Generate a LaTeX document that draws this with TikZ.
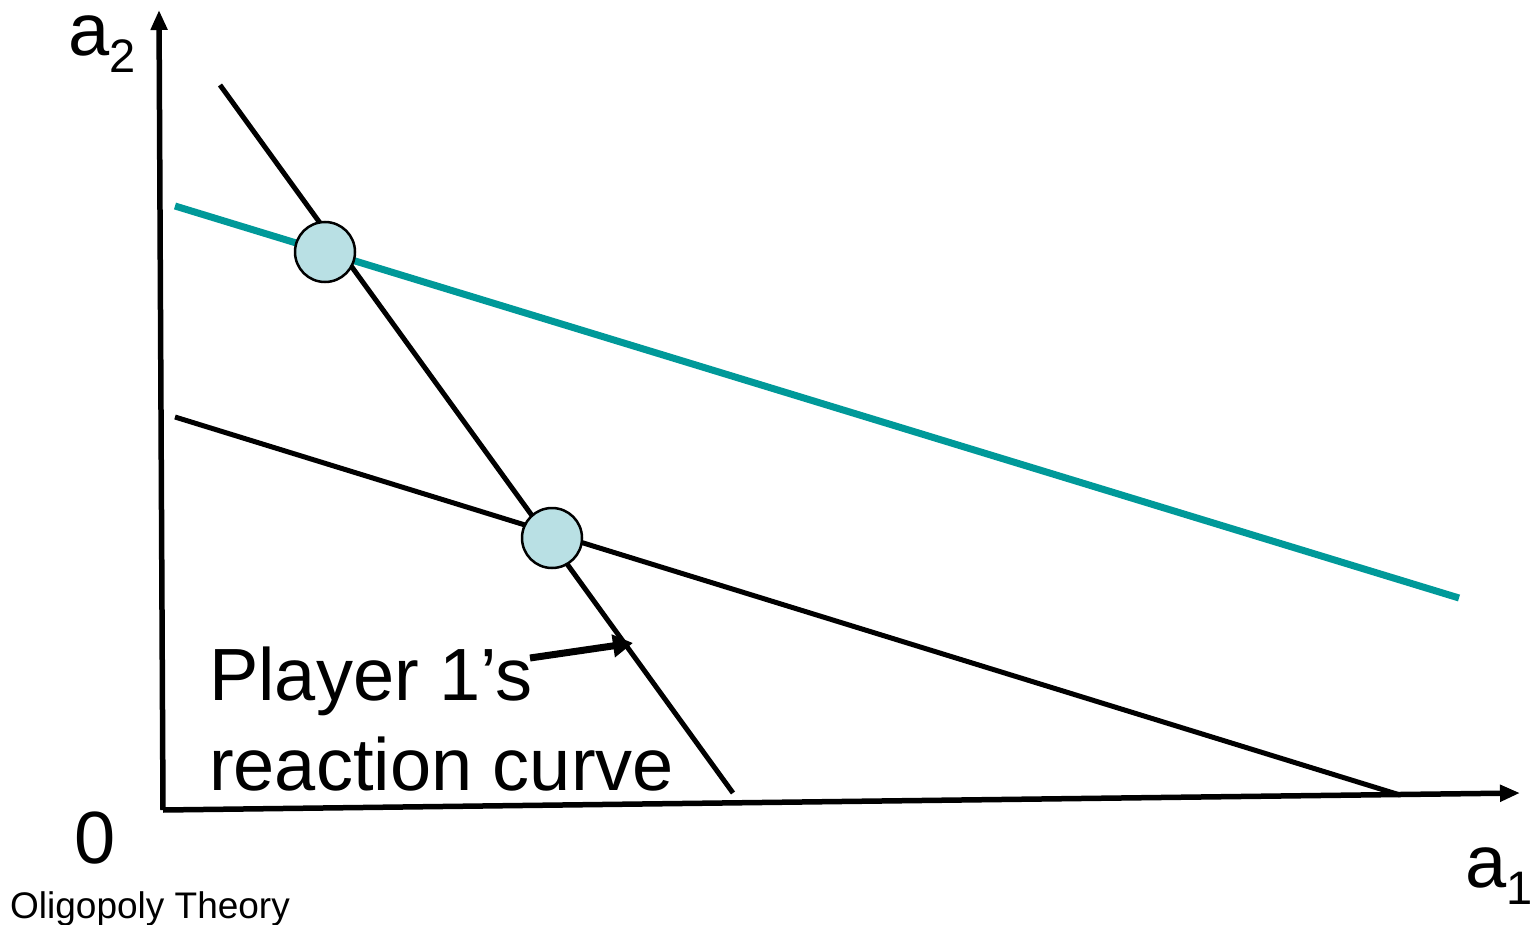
\documentclass[tikz,border=0pt]{standalone}
\usepackage{fontspec}
\setmainfont{Liberation Sans}
\usetikzlibrary{arrows.meta}
\definecolor{tealline}{RGB}{0,153,153}
\definecolor{dotfill}{RGB}{185,224,228}
\begin{document}
\begin{tikzpicture}[x=1pt,y=-1pt,
  axis/.style={line width=5.5pt,-{Triangle[length=20pt,width=16pt]}},
  blackline/.style={line width=5pt},
  tealcurve/.style={line width=7pt,tealline},
  dot/.style={circle,draw=black,line width=2.5pt,fill=dotfill,minimum size=60pt,inner sep=0pt},
  labelarrow/.style={line width=7pt,-{Triangle[length=20pt,width=22pt]}},
  bigtext/.style={font=\fontsize{74}{88}\selectfont,inner sep=0pt,anchor=base west},
  smalltext/.style={font=\fontsize{37}{44}\selectfont,inner sep=0pt,anchor=base west}
]
\useasboundingbox (0,0) rectangle (1534,925);
% coordinates
\coordinate (origin) at (163,810);
\coordinate (ytop) at (159,10);
\coordinate (xend) at (1520,793);
\coordinate (s1) at (220,85);
\coordinate (s2) at (733,793);
\coordinate (t1) at (175,206);
\coordinate (t2) at (1459,598);
\coordinate (b1) at (175,417);
\coordinate (b2) at (1400,795);
\coordinate (arrstart) at (530,658);
\coordinate (arrtip) at (633,643);
% lines
\draw[tealcurve] (t1) -- (t2);
\draw[blackline] (b1) -- (b2);
\draw[blackline] (s1) -- (s2);
\draw[axis] (origin) -- (ytop);
\draw[axis] (origin) -- (xend);
% dots
\node[dot] (dA) at (325,252) {};
\node[dot] (dB) at (552,538) {};
% labels
\node[bigtext] (a2) at (68,56) {a\raisebox{-17pt}{\fontsize{47}{52}\selectfont 2}};
\node[bigtext] (a1) at (1465,887) {a\raisebox{-17pt}{\fontsize{47}{52}\selectfont 1}};
\node[bigtext] (zero) at (74,863) {0};
\node[bigtext] (pl) at (209,700) {Player 1’s};
\node[bigtext] (rc) at (209,790) {reaction curve};
\node[smalltext] (ot) at (10,918) {Oligopoly Theory};
\draw[labelarrow] (arrstart) -- (arrtip);
\end{tikzpicture}
\end{document}
